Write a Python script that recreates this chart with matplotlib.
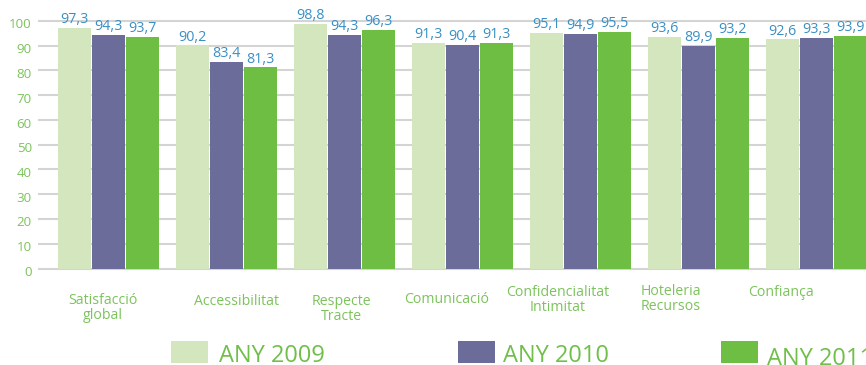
import matplotlib
matplotlib.use("Agg")
import matplotlib.pyplot as plt
import matplotlib.transforms as mtransforms
from matplotlib.patches import Rectangle
import numpy as np

# ---- data ----
categories = ["Satisfacció\nglobal", "Accessibilitat", "Respecte\nTracte",
              "Comunicació", "Confidencialitat\nIntimitat", "Hoteleria\nRecursos",
              "Confiança"]
years = ["ANY 2009", "ANY 2010", "ANY 2011"]
v2009 = [97.3, 90.2, 98.8, 91.3, 95.1, 93.6, 92.6]
v2010 = [94.3, 83.4, 94.3, 90.4, 94.9, 89.9, 93.3]
v2011 = [93.7, 81.3, 96.3, 91.3, 95.5, 93.2, 93.9]
yticks = [0, 10, 20, 30, 40, 50, 60, 70, 80, 90, 100]

# ---- style ----
FONT = "Open Sans"
c_2009 = "#D4E6BE"
c_2010 = "#6C6C9A"
c_2011 = "#6EBE44"
c_value = "#3A8FC4"
c_text = "#7CC35C"
c_legend = "#70BF4A"
c_grid = "#D4D4D4"

W, H, DPI = 866, 365, 100
fig = plt.figure(figsize=(W / DPI, H / DPI), dpi=DPI)
plt.rcParams["font.family"] = [FONT, "DejaVu Sans"]

# axes geometry (pixels)
px_per_unit = 2.475
y0_px = 268.5
ymin, ymax = -1.0, 103.0
ax_left_px = 38
ax_bottom = (H - (y0_px - ymin * px_per_unit)) / H
ax_height = (ymax - ymin) * px_per_unit / H
ax = fig.add_axes([ax_left_px / W, ax_bottom, (W - ax_left_px) / W, ax_height])

group_px = 118.0
x_center0_px = 108.5
ax.set_xlim((ax_left_px - x_center0_px) / group_px, (W - x_center0_px) / group_px)
ax.set_ylim(ymin, ymax)

x = np.arange(len(categories))
bw = 33 / group_px
step = 34 / group_px
series = [v2009, v2010, v2011]
colors = [c_2009, c_2010, c_2011]
for j, (vals, col) in enumerate(zip(series, colors)):
    xs = x + (j - 1) * step
    ax.bar(xs, vals, width=bw, color=col, edgecolor="none", zorder=2)
    for xi, v in zip(xs, vals):
        ax.annotate(f"{v:.1f}".replace(".", ","), (xi, v), xytext=(0, 3.4),
                    textcoords="offset points", ha="center", va="baseline",
                    fontsize=10.3, color=c_value, family=FONT, zorder=3)

# grid
ax.set_yticks(yticks)
ax.yaxis.grid(True, color=c_grid, linewidth=1.5, zorder=0)
ax.set_axisbelow(True)
for s in ax.spines.values():
    s.set_visible(False)
ax.tick_params(axis="y", length=0, pad=4.5, labelsize=9.6, labelcolor=c_text)
ax.tick_params(axis="x", length=0, labelbottom=False)
shift = mtransforms.ScaledTranslation(0, -2.5 / DPI, fig.dpi_scale_trans)
for lab in ax.get_yticklabels():
    lab.set_family(FONT)
    lab.set_transform(lab.get_transform() + shift)

# category labels: x centre and first-line baseline, in pixels
label_x_px = [102.5, 236, 341, 447, 558, 671, 781]
label_base_px = [305, 305, 306, 303, 297, 296, 296]
line_gap_px = 14
xt = ax.get_xaxis_transform()
for name, lx, lb in zip(categories, label_x_px, label_base_px):
    last_base = lb + line_gap_px * name.count("\n")
    ax.text((lx - x_center0_px) / group_px,
            -(last_base - y0_px + ymin * px_per_unit) / ((ymax - ymin) * px_per_unit),
            name, transform=xt, ha="center", va="baseline", fontsize=10.2,
            color=c_text, family=FONT, linespacing=0.98, multialignment="center")

# legend
leg_sq_x = [171, 458, 721]
leg_txt_x = [219, 503, 767]
leg_base = [362, 362, 365]
for sx, tx, tb, col, name in zip(leg_sq_x, leg_txt_x, leg_base, colors, years):
    fig.add_artist(Rectangle((sx / W, 1 - 363 / H), 37 / W, 22 / H,
                             transform=fig.transFigure, color=col, lw=0))
    fig.text(tx / W, 1 - tb / H, name, ha="left", va="baseline",
             fontsize=17, color=c_legend, family=FONT)

fig.savefig("out.png", dpi=DPI)
